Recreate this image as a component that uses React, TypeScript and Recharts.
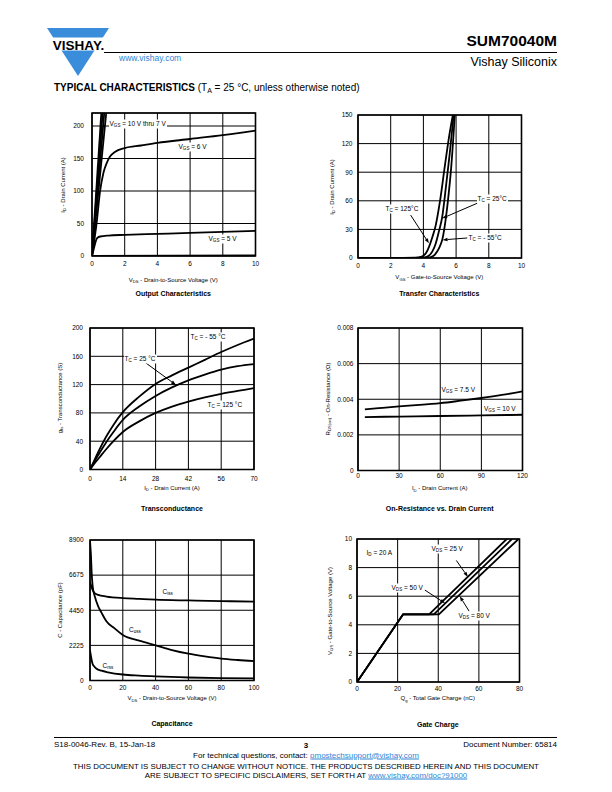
import React from 'react';
import { LineChart, Line, XAxis, YAxis, CartesianGrid, ReferenceArea, ReferenceLine } from 'recharts';

type P = [number, number];

// Output characteristics: VDS (V) -> ID (A)
const outVgs10: P[] = [[0, 0], [0.57, 220]];
const outVgs9: P[] = [[0, 0], [0.65, 220]];
const outVgs8: P[] = [[0, 0], [0.75, 220]];
const outVgs7: P[] = [[0, 0], [0.87, 220]];
const outVgs6: P[] = [[0, 0], [0.28, 50], [0.49, 99], [0.7, 128], [0.9, 143], [1.1, 153], [1.4, 160], [2, 166], [3, 170], [4, 174], [6, 180], [8, 186], [10, 193]];
const outVgs5: P[] = [[0, 0], [0.1, 10], [0.2, 20], [0.3, 27], [0.5, 30], [1, 31.5], [2, 32.5], [4, 34], [6, 35.5], [8, 37], [10, 38.5]];
const outVgs4: P[] = [[0, 0], [10, 0.8]];

// Transfer characteristics: VGS (V) -> ID (A)
const trf125: P[] = [[0, 0], [2, 0], [3.5, 0.3], [3.9, 1.5], [4.15, 5], [4.35, 12], [4.55, 22], [4.75, 34], [5.0, 58], [5.3, 95], [5.55, 125], [5.8, 150]];
const trf25: P[] = [[0, 0], [3, 0], [4.0, 0.3], [4.3, 2], [4.55, 7], [4.75, 15], [4.95, 28], [5.15, 43], [5.4, 78], [5.6, 108], [5.85, 150]];
const trfM55: P[] = [[0, 0], [3.5, 0], [4.3, 0.3], [4.6, 2], [4.85, 7], [5.0, 12], [5.15, 19], [5.3, 33], [5.5, 60], [5.7, 95], [5.92, 150]];

// Transconductance: ID (A) -> gfs (S)
const gfsM55: P[] = [[0, 0], [2, 14], [4, 28], [7, 47], [10, 63], [14, 81], [21, 103], [28, 121], [35, 133], [42, 144], [49, 155], [56, 166], [63, 176], [70, 185]];
const gfs25: P[] = [[0, 0], [2, 12], [4, 23], [7, 39], [10, 53], [14, 70], [21, 89], [28, 104], [35, 116], [42, 126], [49, 134], [56, 141], [63, 146], [70, 149]];
const gfs125: P[] = [[0, 0], [2, 9], [4, 17], [7, 29], [10, 40], [14, 53], [21, 68], [28, 80], [35, 89], [42, 96], [49, 102], [56, 107], [63, 111], [70, 115]];

// On-resistance: ID (A) -> RDS(on) (ohm)
const rds75: P[] = [[5, 0.00343], [15, 0.0035], [30, 0.0036], [45, 0.00368], [60, 0.00378], [75, 0.00392], [90, 0.00407], [105, 0.00424], [120, 0.00444]];
const rds10: P[] = [[5, 0.003], [30, 0.00303], [60, 0.00306], [90, 0.00309], [120, 0.00313]];

// Capacitance: VDS (V) -> C (pF)
const cIss: P[] = [[0, 6250], [1, 5900], [2, 5650], [3, 5520], [5, 5420], [10, 5320], [20, 5220], [30, 5170], [40, 5120], [60, 5070], [80, 5030], [100, 5000]];
const cOss: P[] = [[0, 8900], [0.3, 8400], [0.6, 7900], [1, 6850], [1.6, 6000], [3, 5300], [5, 4700], [7, 4300], [10, 3750], [15, 3300], [20, 2880], [30, 2520], [40, 2230], [50, 1930], [60, 1700], [70, 1530], [80, 1390], [90, 1300], [100, 1230]];
const cRss: P[] = [[0, 1900], [0.5, 1600], [1, 1300], [1.6, 1050], [2.5, 900], [4, 740], [7, 620], [11, 520], [20, 380], [30, 310], [40, 260], [60, 190], [80, 150], [100, 130]];

// Gate charge: Qg (nC) -> VGS (V)
const qg25: P[] = [[0, 0], [22.7, 4.73], [35.5, 4.73], [73.7, 10]];
const qg50: P[] = [[0, 0], [22.7, 4.73], [37.8, 4.73], [76.3, 10]];
const qg80: P[] = [[0, 0], [22.7, 4.73], [40.3, 4.73], [79.5, 10]];

const outXTicks = [0, 2, 4, 6, 8, 10];
const outYTicks = [0, 50, 100, 150, 200];
const trfXTicks = [0, 2, 4, 6, 8, 10];
const trfYTicks = [0, 30, 60, 90, 120, 150];
const gfsXTicks = [0, 14, 28, 42, 56, 70];
const gfsYTicks = [0, 40, 80, 120, 160, 200];
const rdsXTicks = [0, 30, 60, 90, 120];
const rdsYTicks = [0, 0.002, 0.004, 0.006, 0.008];
const capXTicks = [0, 20, 40, 60, 80, 100];
const capYTicks = [0, 2225, 4450, 6675, 8900];
const qgXTicks = [0, 20, 40, 60, 80];
const qgYTicks = [0, 2, 4, 6, 8, 10];

const FONT = '"Liberation Sans", Arial, Helvetica, sans-serif';
const BLUE = '#2f86d6';

const Sub = ({ c }: { c: string }) => (
  <span style={{ fontSize: '70%', position: 'relative', top: '0.3em' }}>{c}</span>
);

const ArrowShape = (props: any) => {
  const { x1, y1, x2, y2 } = props;
  const a = Math.atan2(y2 - y1, x2 - x1);
  const L = 5;
  const W = 1.8;
  const bx = x2 - L * Math.cos(a);
  const by = y2 - L * Math.sin(a);
  const pts = `${x2},${y2} ${bx + W * Math.sin(a)},${by - W * Math.cos(a)} ${bx - W * Math.sin(a)},${by + W * Math.cos(a)}`;
  return (
    <g>
      <line x1={x1} y1={y1} x2={bx} y2={by} stroke="#000" strokeWidth={1} />
      <polygon points={pts} fill="#000" />
    </g>
  );
};

interface Series { data: P[]; type?: 'monotone' | 'linear' }
interface Note { text: React.ReactNode; left: number; cy: number; bg?: boolean }

interface PanelProps {
  box: { x: number; y: number; w: number; h: number };
  xDomain: [number, number];
  xTicks: number[];
  yDomain: [number, number];
  yTicks: number[];
  yFmt?: (v: number) => string;
  series: Series[];
  arrows?: { from: P; to: P }[];
  notes?: Note[];
  xLabel: React.ReactNode;
  yLabel: React.ReactNode;
  title: string;
  yLabelX: number;
  xLabelY: number;
  titleY: number;
  yGap: number;
  xGap: number;
}

const Panel = (p: PanelProps) => {
  const { box } = p;
  const cx = box.x + box.w / 2;
  return (
    <>
      <div style={{ position: 'absolute', left: box.x - 40, top: box.y - 10 }}>
        <LineChart width={box.w + 50} height={box.h + 40} margin={{ top: 10, right: 10, bottom: 0, left: 0 }}>
          <CartesianGrid stroke="#000" strokeWidth={1} />
          <XAxis
            type="number"
            dataKey="x"
            domain={p.xDomain}
            ticks={p.xTicks}
            interval={0}
            allowDataOverflow
            height={30}
            axisLine={false}
            tickLine={false}
            tickSize={0}
            tickMargin={p.xGap}
            tick={{ fill: '#000', fontSize: 6.5, fontFamily: FONT }}
          />
          <YAxis
            type="number"
            domain={p.yDomain}
            ticks={p.yTicks}
            interval={0}
            allowDataOverflow
            width={40}
            axisLine={false}
            tickLine={false}
            tickSize={0}
            tickMargin={p.yGap}
            tickFormatter={p.yFmt}
            tick={{ fill: '#000', fontSize: 6.5, fontFamily: FONT }}
          />
          {p.series.map((s, i) => (
            <Line
              key={i}
              data={s.data.map(([x, y]) => ({ x, y }))}
              dataKey="y"
              type={s.type ?? 'monotone'}
              stroke="#000"
              strokeWidth={1.8}
              dot={false}
              activeDot={false}
              isAnimationActive={false}
            />
          ))}
          {(p.arrows ?? []).map((a, i) => (
            <ReferenceLine
              key={'a' + i}
              segment={[{ x: a.from[0], y: a.from[1] }, { x: a.to[0], y: a.to[1] }]}
              shape={ArrowShape}
              ifOverflow="visible"
            />
          ))}
          <ReferenceArea
            x1={p.xDomain[0]}
            x2={p.xDomain[1]}
            y1={p.yDomain[0]}
            y2={p.yDomain[1]}
            fill="none"
            stroke="#000"
            strokeWidth={1.6}
            ifOverflow="visible"
          />
        </LineChart>
      </div>
      {(p.notes ?? []).map((n, i) => (
        <div
          key={'n' + i}
          style={{
            position: 'absolute',
            left: n.left,
            top: n.cy,
            transform: 'translateY(-50%)',
            fontSize: 6.5,
            lineHeight: '8px',
            whiteSpace: 'nowrap',
            background: n.bg === false ? 'transparent' : '#fff',
            padding: '0 1px',
          }}
        >
          {n.text}
        </div>
      ))}
      <div
        style={{
          position: 'absolute',
          left: p.yLabelX,
          top: box.y + box.h / 2,
          transform: 'translate(-50%, -50%) rotate(-90deg)',
          fontSize: 6,
          whiteSpace: 'nowrap',
          lineHeight: '8px',
        }}
      >
        {p.yLabel}
      </div>
      <div
        style={{
          position: 'absolute',
          left: cx,
          top: p.xLabelY,
          transform: 'translate(-50%, -50%)',
          fontSize: 6,
          whiteSpace: 'nowrap',
          lineHeight: '8px',
        }}
      >
        {p.xLabel}
      </div>
      <div
        style={{
          position: 'absolute',
          left: cx,
          top: p.titleY,
          transform: 'translate(-50%, -50%)',
          fontSize: 7,
          fontWeight: 'bold',
          whiteSpace: 'nowrap',
          lineHeight: '9px',
        }}
      >
        {p.title}
      </div>
    </>
  );
};

const Logo = () => (
  <svg width={70} height={56} style={{ position: 'absolute', left: 44, top: 24 }}>
    <polygon points="3,4 65,4 34,52" fill="#3a8ddb" />
    <rect x={0} y={13.5} width={70} height={13} fill="#fff" />
    <text x={34.5} y={25.5} textAnchor="middle" fontFamily={FONT} fontWeight="bold" fontSize={13.5} fill="#000">
      VISHAY.
    </text>
  </svg>
);

export default function App() {
  return (
    <div
      style={{
        position: 'absolute',
        left: 0,
        top: 0,
        width: 612,
        height: 792,
        background: '#fff',
        overflow: 'hidden',
        fontFamily: FONT,
        color: '#000',
      }}
    >
      <Logo />
      <div style={{ position: 'absolute', left: 119, top: 58, transform: 'translateY(-50%)', fontSize: 8.5, color: BLUE }}>
        www.vishay.com
      </div>
      <div style={{ position: 'absolute', left: 104, top: 51.5, width: 453, height: 1.3, background: '#000' }} />
      <div style={{ position: 'absolute', right: 55, top: 41, transform: 'translateY(-50%)', fontSize: 15.5, fontWeight: 'bold' }}>
        SUM70040M
      </div>
      <div style={{ position: 'absolute', right: 55, top: 62, transform: 'translateY(-50%)', fontSize: 12.5 }}>
        Vishay Siliconix
      </div>
      <div style={{ position: 'absolute', left: 54, top: 87, transform: 'translateY(-50%)', fontSize: 10, whiteSpace: 'nowrap' }}>
        <b>TYPICAL CHARACTERISTICS</b> (T<Sub c="A" /> = 25 °C, unless otherwise noted)
      </div>

      <Panel
        box={{ x: 91.5, y: 113, w: 163.5, h: 143 }}
        xDomain={[0, 10]}
        xTicks={outXTicks}
        yDomain={[0, 220]}
        yTicks={outYTicks}
        series={[
          { data: outVgs10, type: 'linear' },
          { data: outVgs9, type: 'linear' },
          { data: outVgs8, type: 'linear' },
          { data: outVgs7, type: 'linear' },
          { data: outVgs6 },
          { data: outVgs5 },
          { data: outVgs4, type: 'linear' },
        ]}
        notes={[
          { text: <>V<Sub c="GS" /> = 10 V thru 7 V</>, left: 108.5, cy: 124 },
          { text: <>V<Sub c="GS" /> = 6 V</>, left: 177.5, cy: 147 },
          { text: <>V<Sub c="GS" /> = 5 V</>, left: 207.5, cy: 238.5 },
        ]}
        xLabel={<>V<Sub c="DS" /> - Drain-to-Source Voltage (V)</>}
        yLabel={<>I<Sub c="D" /> - Drain Current (A)</>}
        title="Output Characteristics"
        yLabelX={62.7}
        xLabelY={280}
        titleY={293.3}
        yGap={8}
        xGap={5.7}
      />

      <Panel
        box={{ x: 357.5, y: 115, w: 163.5, h: 143 }}
        xDomain={[0, 10]}
        xTicks={trfXTicks}
        yDomain={[0, 150]}
        yTicks={trfYTicks}
        series={[{ data: trf125 }, { data: trf25 }, { data: trfM55 }]}
        arrows={[
          { from: [7.29, 57.4], to: [5.15, 41.6] },
          { from: [3.22, 45], to: [4.34, 15.4] },
          { from: [6.68, 21], to: [5.17, 19] },
        ]}
        notes={[
          { text: <>T<Sub c="C" /> = 25°C</>, left: 476.5, cy: 198.5 },
          { text: <>T<Sub c="C" /> = 125°C</>, left: 384.5, cy: 208.5 },
          { text: <>T<Sub c="C" /> = - 55°C</>, left: 467.5, cy: 237.5 },
        ]}
        xLabel={<>V<Sub c="GS" /> - Gate-to-Source Voltage (V)</>}
        yLabel={<>I<Sub c="D" /> - Drain Current (A)</>}
        title="Transfer Characteristics"
        yLabelX={331.7}
        xLabelY={277.3}
        titleY={292.7}
        yGap={5.5}
        xGap={5.4}
      />

      <Panel
        box={{ x: 90, y: 327.5, w: 164, h: 141.5 }}
        xDomain={[0, 70]}
        xTicks={gfsXTicks}
        yDomain={[0, 200]}
        yTicks={gfsYTicks}
        series={[{ data: gfsM55 }, { data: gfs25 }, { data: gfs125 }]}
        arrows={[{ from: [23.5, 151.4], to: [36.7, 119.5] }]}
        notes={[
          { text: <>T<Sub c="C" /> = - 55 °C</>, left: 189.5, cy: 337 },
          { text: <>T<Sub c="C" /> = 25 °C</>, left: 123.5, cy: 358.5 },
          { text: <>T<Sub c="C" /> = 125 °C</>, left: 206.5, cy: 404.5 },
        ]}
        xLabel={<>I<Sub c="D" /> - Drain Current (A)</>}
        yLabel={<>g<Sub c="fs" /> - Transconductance (S)</>}
        title="Transconductance"
        yLabelX={60}
        xLabelY={487.7}
        titleY={507.7}
        yGap={7}
        xGap={6.4}
      />

      <Panel
        box={{ x: 357.5, y: 327.5, w: 164.5, h: 142.5 }}
        xDomain={[0, 120]}
        xTicks={rdsXTicks}
        yDomain={[0, 0.008]}
        yTicks={rdsYTicks}
        yFmt={(v) => (v === 0 ? '0' : v.toFixed(3))}
        series={[{ data: rds75 }, { data: rds10 }]}
        notes={[
          { text: <>V<Sub c="GS" /> = 7.5 V</>, left: 440.5, cy: 390 },
          { text: <>V<Sub c="GS" /> = 10 V</>, left: 483, cy: 409 },
        ]}
        xLabel={<>I<Sub c="D" /> - Drain Current (A)</>}
        yLabel={<>R<Sub c="DS(on)" /> - On-Resistance (Ω)</>}
        title="On-Resistance vs. Drain Current"
        yLabelX={328.3}
        xLabelY={488.3}
        titleY={507.7}
        yGap={4.5}
        xGap={2.7}
      />

      <Panel
        box={{ x: 90, y: 539.5, w: 164, h: 140.5 }}
        xDomain={[0, 100]}
        xTicks={capXTicks}
        yDomain={[0, 8900]}
        yTicks={capYTicks}
        series={[{ data: cIss }, { data: cOss }, { data: cRss }]}
        notes={[
          { text: <>C<Sub c="iss" /></>, left: 161.5, cy: 591.5, bg: false },
          { text: <>C<Sub c="oss" /></>, left: 128, cy: 630, bg: false },
          { text: <>C<Sub c="rss" /></>, left: 101.5, cy: 666, bg: false },
        ]}
        xLabel={<>V<Sub c="DS" /> - Drain-to-Source Voltage (V)</>}
        yLabel="C - Capacitance (pF)"
        title="Capacitance"
        yLabelX={60}
        xLabelY={698.3}
        titleY={723.3}
        yGap={6.5}
        xGap={4.4}
      />

      <Panel
        box={{ x: 356.5, y: 539, w: 162.5, h: 143 }}
        xDomain={[0, 80]}
        xTicks={qgXTicks}
        yDomain={[0, 10]}
        yTicks={qgYTicks}
        series={[
          { data: qg25, type: 'linear' },
          { data: qg50, type: 'linear' },
          { data: qg80, type: 'linear' },
        ]}
        arrows={[
          { from: [48.9, 8.5], to: [54.6, 7.35] },
          { from: [33.4, 6.43], to: [43.4, 5.5] },
          { from: [55.2, 4.95], to: [50.6, 6.0] },
        ]}
        notes={[
          { text: <>I<Sub c="D" /> = 20 A</>, left: 365.5, cy: 552.5, bg: false },
          { text: <>V<Sub c="DS" /> = 25 V</>, left: 430.5, cy: 549 },
          { text: <>V<Sub c="DS" /> = 50 V</>, left: 390.5, cy: 588 },
          { text: <>V<Sub c="DS" /> = 80 V</>, left: 457.5, cy: 616 },
        ]}
        xLabel={<>Q<Sub c="g" /> - Total Gate Charge (nC)</>}
        yLabel={<>V<Sub c="GS" /> - Gate-to-Source Voltage (V)</>}
        title="Gate Charge"
        yLabelX={330}
        xLabelY={698.3}
        titleY={724}
        yGap={5}
        xGap={4}
      />

      <div style={{ position: 'absolute', left: 54, top: 736.5, width: 503, height: 1.3, background: '#000' }} />
      <div style={{ position: 'absolute', left: 54, top: 744, transform: 'translateY(-50%)', fontSize: 8 }}>
        S18-0046-Rev. B, 15-Jan-18
      </div>
      <div style={{ position: 'absolute', left: 306, top: 745, transform: 'translate(-50%, -50%)', fontSize: 8, fontWeight: 'bold' }}>
        3
      </div>
      <div style={{ position: 'absolute', right: 55, top: 744, transform: 'translateY(-50%)', fontSize: 8 }}>
        Document Number: 65814
      </div>
      <div style={{ position: 'absolute', left: 306, top: 754.5, transform: 'translate(-50%, -50%)', fontSize: 8, whiteSpace: 'nowrap' }}>
        For technical questions, contact: <span style={{ color: BLUE, textDecoration: 'underline' }}>pmostechsupport@vishay.com</span>
      </div>
      <div style={{ position: 'absolute', left: 306, top: 765.5, transform: 'translate(-50%, -50%)', fontSize: 7.9, whiteSpace: 'nowrap' }}>
        THIS DOCUMENT IS SUBJECT TO CHANGE WITHOUT NOTICE. THE PRODUCTS DESCRIBED HEREIN AND THIS DOCUMENT
      </div>
      <div style={{ position: 'absolute', left: 306, top: 774.5, transform: 'translate(-50%, -50%)', fontSize: 7.9, whiteSpace: 'nowrap' }}>
        ARE SUBJECT TO SPECIFIC DISCLAIMERS, SET FORTH AT <span style={{ color: BLUE, textDecoration: 'underline' }}>www.vishay.com/doc?91000</span>
      </div>
    </div>
  );
}
